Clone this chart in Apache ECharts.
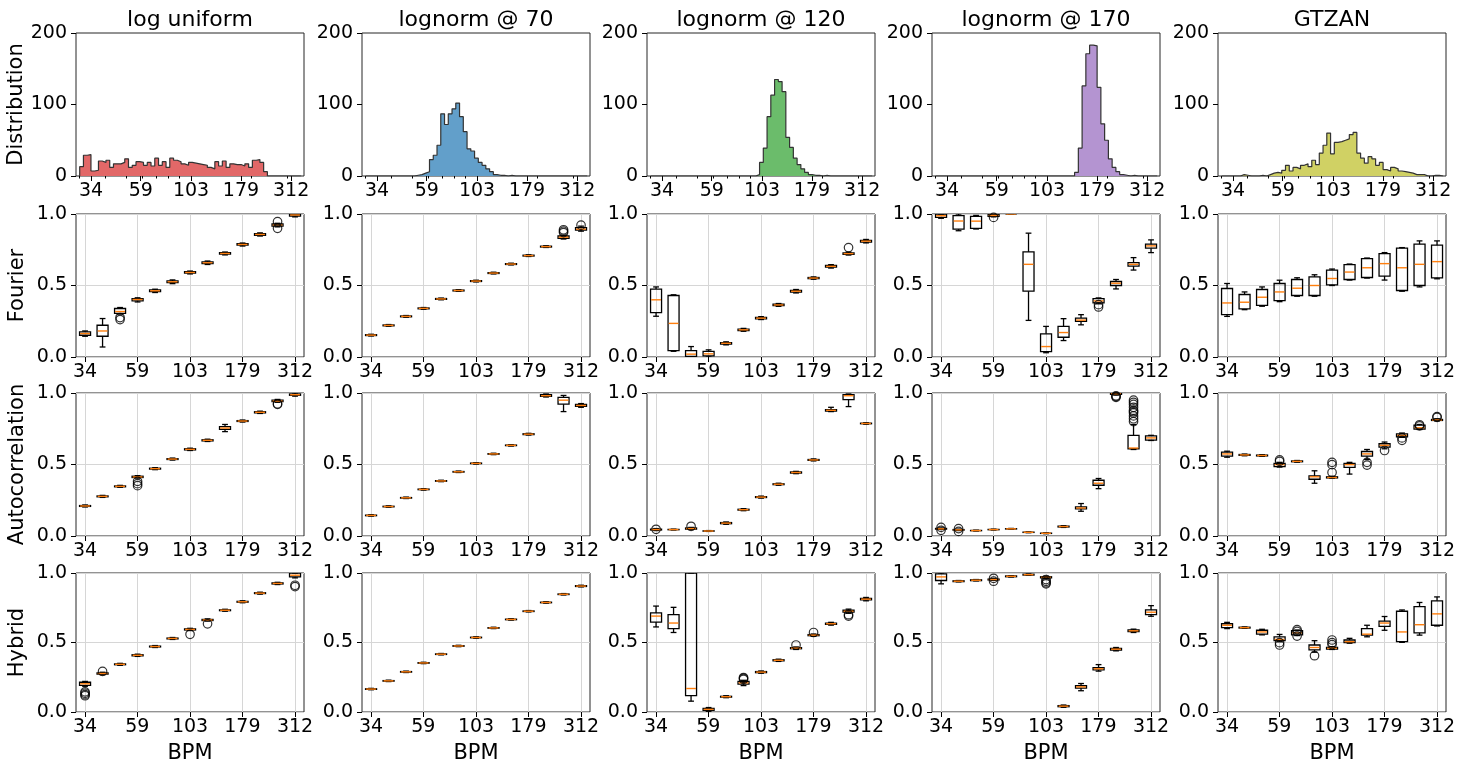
<!DOCTYPE html>
<html><head><meta charset="utf-8">
<script src="https://cdn.jsdelivr.net/npm/echarts@6/dist/echarts.min.js"></script>
<style>html,body{margin:0;padding:0;background:#fff}#c{width:1465px;height:765px}</style>
</head><body><div id="c"></div>
<script>
// ---------------- DATA ----------------
const columns = ['log uniform', 'lognorm @ 70', 'lognorm @ 120', 'lognorm @ 170', 'GTZAN'];
const rowNames = ['Distribution', 'Fourier', 'Autocorrelation', 'Hybrid'];
const tickLabels = [34, 59, 103, 179, 312];
const minorTicks = [30, 40, 50, 60, 70, 80, 90, 200, 300];
// tempo positions of the 13 boxes (BPM)
const bpmPositions = [34, 40.9, 49.2, 59.2, 71.2, 85.6, 103, 123.9, 149, 179.3, 215.6, 259.4, 312];
// histogram bins: log-spaced from 30 BPM, 50 bins between 30 and 240 BPM
const histBinStart = 30, histBinRef = 240, histBinsPerRef = 50;
const histLogUniform = [13,29,30,7,8,21,19,22,12,17,17,19,24,12,15,20,19,15,19,14,25,15,20,12,25,22,20,17,15,19,18,17,16,15,12,10,20,14,21,12,17,16,16,14,17,12,22,23,19,6,0,0,0,0,0,0,0,0,0];
const histLognorm70 = [0,0,0,0,0,0,0,0,0,0,0,0,0,1,2,4,6,23,29,43,87,72,87,94,102,83,62,38,35,25,19,15,10,6,2,1,1,0,1,0,0,0,0,0,0,0,0,0,0,0,0,0,0,0,0,0,0,0,0];
const histLognorm120 = [0,0,0,0,0,0,0,0,0,0,0,0,0,0,0,0,0,0,0,0,0,0,0,0,0,0,0,0,2,19,39,83,113,135,132,118,54,40,25,16,10,5,2,1,1,0,1,0,0,0,0,0,0,0,0,0,0,0,0];
const histLognorm170 = [0,0,0,0,0,0,0,0,0,0,0,0,0,0,0,0,0,0,0,0,0,0,0,0,0,0,0,0,0,0,0,0,0,0,0,0,0,5,39,126,171,183,182,124,73,50,24,12,6,2,1,0,1,0,0,0,0,0,0];
const histGTZAN = [0,0,0,0,0,2,1,0,0,0,1,0,2,4,5,4,8,15,7,12,10,15,17,13,22,16,32,43,60,31,47,48,50,52,58,61,32,25,18,27,24,15,19,9,7,12,10,7,6,5,4,2,2,2,0,0,1,1,0];

// boxes: [min, Q1, median, Q3, max]; outliers: [boxIndex, value]
const fourierLogUniform = [[0.145,0.152,0.164,0.176,0.182],[0.07,0.145,0.182,0.222,0.269],[0.30,0.305,0.318,0.339,0.346],[0.385,0.393,0.402,0.408,0.414],[0.451,0.457,0.463,0.469,0.474],[0.513,0.52,0.526,0.532,0.539],[0.581,0.586,0.591,0.596,0.601],[0.647,0.653,0.659,0.665,0.671],[0.714,0.719,0.724,0.729,0.734],[0.776,0.782,0.787,0.792,0.797],[0.846,0.851,0.857,0.862,0.868],[0.91,0.915,0.923,0.93,0.935],[0.98,0.986,0.993,0.998,1.0]];
const fourierLogUniformOut = [[2,0.276],[2,0.262],[11,0.946],[11,0.9]];
const autocorrLogUniform = [[0.203,0.207,0.21,0.213,0.217],[0.27,0.274,0.277,0.28,0.284],[0.34,0.344,0.347,0.35,0.354],[0.405,0.409,0.413,0.418,0.422],[0.464,0.468,0.471,0.474,0.478],[0.531,0.535,0.538,0.541,0.545],[0.598,0.602,0.606,0.61,0.614],[0.661,0.665,0.669,0.673,0.677],[0.73,0.745,0.755,0.765,0.78],[0.797,0.801,0.804,0.807,0.811],[0.857,0.861,0.865,0.869,0.873],[0.935,0.94,0.944,0.95,0.955],[0.978,0.984,0.988,0.993,1.0]];
const autocorrLogUniformOut = [[3,0.382],[3,0.366],[3,0.352],[11,0.925],[11,0.92]];
const hybridLogUniform = [[0.185,0.191,0.203,0.214,0.22],[0.268,0.272,0.277,0.282,0.286],[0.336,0.34,0.343,0.346,0.35],[0.4,0.404,0.408,0.412,0.416],[0.464,0.468,0.471,0.474,0.478],[0.522,0.526,0.529,0.532,0.536],[0.586,0.59,0.594,0.598,0.602],[0.654,0.658,0.662,0.666,0.67],[0.725,0.729,0.732,0.735,0.739],[0.786,0.79,0.793,0.796,0.8],[0.848,0.852,0.855,0.858,0.862],[0.917,0.921,0.925,0.929,0.933],[0.965,0.972,0.984,1.0,1.0]];
const hybridLogUniformOut = [[0,0.145],[0,0.135],[0,0.125],[0,0.117],[1,0.292],[6,0.559],[7,0.634],[12,0.902],[12,0.912]];

const fourierLognorm70 = [[0.147,0.15,0.153,0.156,0.159],[0.215,0.218,0.221,0.224,0.227],[0.278,0.281,0.284,0.287,0.29],[0.334,0.337,0.34,0.343,0.346],[0.4,0.403,0.406,0.409,0.412],[0.459,0.462,0.465,0.468,0.471],[0.525,0.528,0.531,0.534,0.537],[0.581,0.584,0.587,0.59,0.593],[0.644,0.647,0.65,0.653,0.656],[0.703,0.706,0.709,0.712,0.715],[0.766,0.769,0.772,0.775,0.778],[0.825,0.83,0.838,0.846,0.852],[0.88,0.888,0.894,0.905,0.915]];
const fourierLognorm70Out = [[11,0.87],[11,0.88],[11,0.89],[12,0.922]];
const autocorrLognorm70 = [[0.139,0.142,0.144,0.146,0.149],[0.201,0.204,0.206,0.208,0.211],[0.262,0.265,0.267,0.269,0.272],[0.321,0.324,0.326,0.328,0.331],[0.38,0.383,0.385,0.387,0.39],[0.444,0.447,0.449,0.451,0.454],[0.503,0.506,0.508,0.51,0.513],[0.569,0.572,0.574,0.576,0.579],[0.629,0.632,0.634,0.636,0.639],[0.706,0.709,0.712,0.715,0.718],[0.972,0.976,0.981,0.988,0.993],[0.87,0.922,0.95,0.969,0.983],[0.9,0.906,0.913,0.92,0.926]];
const autocorrLognorm70Out = [];
const hybridLognorm70 = [[0.16,0.163,0.165,0.167,0.17],[0.219,0.222,0.224,0.226,0.229],[0.284,0.287,0.289,0.291,0.294],[0.348,0.351,0.353,0.355,0.358],[0.411,0.414,0.416,0.418,0.421],[0.47,0.473,0.475,0.477,0.48],[0.531,0.534,0.536,0.538,0.541],[0.6,0.603,0.605,0.607,0.61],[0.661,0.664,0.666,0.668,0.671],[0.72,0.723,0.725,0.727,0.73],[0.783,0.786,0.788,0.79,0.793],[0.842,0.845,0.847,0.849,0.852],[0.9,0.903,0.906,0.909,0.912]];
const hybridLognorm70Out = [];

const fourierLognorm120 = [[0.285,0.31,0.40,0.475,0.49],[0.04,0.045,0.235,0.43,0.435],[0.0,0.005,0.02,0.045,0.073],[0.0,0.008,0.022,0.04,0.05],[0.085,0.09,0.096,0.101,0.106],[0.18,0.185,0.19,0.195,0.2],[0.262,0.267,0.272,0.277,0.282],[0.354,0.359,0.364,0.369,0.374],[0.448,0.454,0.46,0.466,0.472],[0.544,0.548,0.552,0.556,0.56],[0.622,0.628,0.634,0.64,0.646],[0.713,0.718,0.723,0.728,0.733],[0.798,0.804,0.81,0.816,0.822]];
const fourierLognorm120Out = [[11,0.765]];
const autocorrLognorm120 = [[0.038,0.042,0.045,0.048,0.052],[0.042,0.044,0.045,0.046,0.048],[0.045,0.048,0.052,0.056,0.06],[0.032,0.034,0.035,0.036,0.038],[0.082,0.086,0.09,0.094,0.098],[0.177,0.181,0.184,0.187,0.191],[0.265,0.269,0.272,0.275,0.279],[0.355,0.359,0.362,0.365,0.369],[0.436,0.44,0.444,0.448,0.452],[0.525,0.529,0.532,0.535,0.539],[0.87,0.874,0.879,0.884,0.9],[0.905,0.953,0.981,0.988,0.993],[0.782,0.785,0.787,0.789,0.792]];
const autocorrLognorm120Out = [[0,0.047],[2,0.068]];
const hybridLognorm120 = [[0.612,0.647,0.69,0.713,0.762],[0.572,0.60,0.64,0.70,0.753],[0.078,0.118,0.169,1.0,1.0],[0.005,0.012,0.019,0.026,0.032],[0.103,0.107,0.11,0.113,0.117],[0.19,0.2,0.21,0.22,0.228],[0.279,0.283,0.287,0.291,0.295],[0.364,0.368,0.372,0.376,0.38],[0.45,0.455,0.459,0.463,0.468],[0.545,0.549,0.553,0.557,0.561],[0.625,0.63,0.635,0.64,0.645],[0.71,0.718,0.725,0.732,0.74],[0.8,0.806,0.812,0.818,0.824]];
const hybridLognorm120Out = [[5,0.235],[5,0.242],[5,0.248],[8,0.482],[9,0.572],[11,0.69],[11,0.70]];

const fourierLognorm170 = [[0.97,0.976,0.988,1.0,1.0],[0.883,0.894,0.951,0.988,1.0],[0.895,0.90,0.95,0.983,0.99],[0.98,0.983,0.99,0.995,1.0],[1,1,1,1,1],[0.256,0.46,0.648,0.735,0.866],[0.03,0.038,0.073,0.162,0.214],[0.115,0.138,0.171,0.214,0.268],[0.225,0.249,0.258,0.272,0.296],[0.372,0.378,0.392,0.408,0.413],[0.476,0.5,0.516,0.528,0.542],[0.608,0.636,0.648,0.66,0.695],[0.73,0.761,0.777,0.789,0.819]];
const fourierLognorm170Out = [[3,0.976],[9,0.366],[9,0.35]];
const autocorrLognorm170 = [[0.045,0.048,0.05,0.053,0.056],[0.038,0.041,0.043,0.045,0.048],[0.035,0.037,0.038,0.039,0.041],[0.042,0.044,0.045,0.046,0.048],[0.047,0.049,0.05,0.051,0.053],[0.023,0.025,0.026,0.027,0.029],[0.016,0.018,0.019,0.02,0.022],[0.06,0.063,0.066,0.069,0.072],[0.173,0.19,0.196,0.203,0.227],[0.331,0.355,0.369,0.39,0.402],[0.985,0.99,0.995,1.0,1.0],[0.605,0.61,0.615,0.704,0.78],[0.668,0.671,0.686,0.70,0.704]];
const autocorrLognorm170Out = [[0,0.04],[0,0.06],[1,0.032],[1,0.052],[10,0.97],[10,0.975],[10,0.98],[11,0.8],[11,0.82],[11,0.84],[11,0.86],[11,0.87],[11,0.88],[11,0.9],[11,0.92],[11,0.935],[11,0.95]];
const hybridLognorm170 = [[0.922,0.946,0.972,0.993,1.0],[0.936,0.938,0.941,0.944,0.946],[0.943,0.945,0.948,0.951,0.953],[0.947,0.95,0.953,0.956,0.959],[0.971,0.973,0.976,0.979,0.981],[0.983,0.985,0.988,0.991,0.993],[0.96,0.965,0.969,0.973,0.976],[0.034,0.038,0.042,0.046,0.05],[0.153,0.172,0.181,0.19,0.205],[0.294,0.303,0.311,0.319,0.341],[0.44,0.446,0.452,0.458,0.464],[0.572,0.578,0.584,0.59,0.596],[0.689,0.701,0.718,0.734,0.765]];
const hybridLognorm170Out = [[3,0.941],[3,0.962],[6,0.953],[6,0.94],[6,0.93],[6,0.922]];

const fourierGTZAN = [[0.284,0.296,0.378,0.479,0.514],[0.331,0.336,0.383,0.437,0.455],[0.355,0.361,0.418,0.472,0.49],[0.387,0.394,0.455,0.514,0.537],[0.425,0.43,0.481,0.542,0.554],[0.425,0.43,0.5,0.561,0.575],[0.5,0.505,0.549,0.608,0.615],[0.538,0.542,0.594,0.646,0.65],[0.552,0.556,0.624,0.688,0.692],[0.538,0.566,0.653,0.723,0.73],[0.46,0.465,0.624,0.761,0.765],[0.49,0.5,0.648,0.789,0.812],[0.547,0.554,0.667,0.782,0.812]];
const fourierGTZANOut = [];
const autocorrGTZAN = [[0.551,0.558,0.574,0.586,0.593],[0.561,0.564,0.567,0.57,0.573],[0.557,0.56,0.563,0.566,0.569],[0.482,0.485,0.499,0.508,0.515],[0.516,0.519,0.522,0.525,0.528],[0.369,0.397,0.414,0.421,0.456],[0.404,0.406,0.409,0.414,0.418],[0.433,0.48,0.499,0.508,0.515],[0.535,0.558,0.574,0.591,0.605],[0.61,0.622,0.634,0.645,0.657],[0.69,0.693,0.704,0.714,0.72],[0.745,0.747,0.757,0.775,0.78],[0.805,0.808,0.811,0.815,0.82]];
const autocorrGTZANOut = [[3,0.532],[3,0.522],[6,0.444],[6,0.499],[6,0.515],[8,0.515],[8,0.496],[9,0.598],[10,0.686],[10,0.669],[11,0.77],[11,0.778],[12,0.835],[12,0.83]];
const hybridGTZAN = [[0.6,0.607,0.624,0.635,0.645],[0.602,0.604,0.607,0.61,0.612],[0.555,0.56,0.576,0.588,0.595],[0.505,0.513,0.522,0.541,0.558],[0.55,0.555,0.569,0.585,0.59],[0.43,0.447,0.464,0.482,0.513],[0.45,0.453,0.459,0.465,0.47],[0.495,0.499,0.506,0.518,0.53],[0.541,0.553,0.56,0.6,0.624],[0.588,0.616,0.64,0.654,0.687],[0.501,0.506,0.576,0.725,0.734],[0.553,0.569,0.628,0.758,0.788],[0.619,0.624,0.706,0.8,0.828]];
const hybridGTZANOut = [[3,0.499],[3,0.482],[4,0.593],[4,0.58],[4,0.546],[5,0.405],[6,0.499],[6,0.518],[6,0.485]];

// ---------------- LAYOUT / STYLE ----------------
const histograms = [histLogUniform, histLognorm70, histLognorm120, histLognorm170, histGTZAN];
const boxRows = [
  [[fourierLogUniform, fourierLogUniformOut],[fourierLognorm70, fourierLognorm70Out],[fourierLognorm120, fourierLognorm120Out],[fourierLognorm170, fourierLognorm170Out],[fourierGTZAN, fourierGTZANOut]],
  [[autocorrLogUniform, autocorrLogUniformOut],[autocorrLognorm70, autocorrLognorm70Out],[autocorrLognorm120, autocorrLognorm120Out],[autocorrLognorm170, autocorrLognorm170Out],[autocorrGTZAN, autocorrGTZANOut]],
  [[hybridLogUniform, hybridLogUniformOut],[hybridLognorm70, hybridLognorm70Out],[hybridLognorm120, hybridLognorm120Out],[hybridLognorm170, hybridLognorm170Out],[hybridGTZAN, hybridGTZANOut]]
];
const FONT = 'DejaVu Sans';
const colLeft = [76, 362, 647, 932, 1218];
const rowTop = [33, 214, 393, 573];
const W = 228, H = 143;
const histFill = ['#e26868', '#629fca', '#6bbc6b', '#b494d1', '#d0d164'];
const L = Math.log;
const histXlim = [28.8, 360];
const boxXlim = [30.9, 343];
const tickVals = tickLabels.map(L);
const fmtTick = v => String(Math.round(Math.exp(v)));
const gridColor = '#d6d6d6';
const TICK_FS = 19;

const grid = [], xAxis = [], yAxis = [], series = [], graphic = [];
for (let r = 0; r < 4; r++) {
  for (let c = 0; c < 5; c++) {
    const p = r * 5 + c;
    grid.push({left: colLeft[c], top: rowTop[r], width: W, height: H, show: true,
      borderColor: '#262626', borderWidth: 1, backgroundColor: 'rgba(0,0,0,0)'});
    const xl = r === 0 ? histXlim : boxXlim;
    xAxis.push({gridIndex: p, type: 'value', min: L(xl[0]), max: L(xl[1]),
      axisLine: {show: false},
      axisTick: {show: true, customValues: tickVals, length: 5, lineStyle: {color: '#000', width: 1}},
      axisLabel: {customValues: tickVals, formatter: fmtTick, fontSize: TICK_FS, color: '#000', fontFamily: FONT, margin: 6},
      splitLine: {show: r > 0, lineStyle: {color: gridColor, width: 1}},
      name: r === 3 ? 'BPM' : '', nameLocation: 'middle', nameGap: 31,
      nameTextStyle: {fontSize: 21, fontFamily: FONT, color: '#000'}});
    yAxis.push({gridIndex: p, type: 'value', min: 0, max: r === 0 ? 200 : 1, interval: r === 0 ? 100 : 0.5,
      axisLine: {show: false},
      axisTick: {show: true, length: 5, lineStyle: {color: '#000', width: 1}},
      axisLabel: {fontSize: TICK_FS, color: '#000', fontFamily: FONT, margin: 9,
        formatter: r === 0 ? (v => String(v)) : (v => v.toFixed(1))},
      splitLine: {show: r > 0, lineStyle: {color: gridColor, width: 1}},
      name: c === 0 ? rowNames[r] : '', nameLocation: 'middle', nameGap: 48, nameRotate: 90,
      nameTextStyle: {fontSize: 21, fontFamily: FONT, color: '#000'}});
  }
}
// minor ticks on histogram axes
for (let c = 0; c < 5; c++) {
  xAxis.push({gridIndex: c, type: 'value', position: 'bottom', offset: 0,
    min: L(histXlim[0]), max: L(histXlim[1]),
    axisLine: {show: false}, axisLabel: {show: false}, splitLine: {show: false},
    axisTick: {show: true, customValues: minorTicks.map(L), length: 2.5, lineStyle: {color: '#000', width: 1}}});
}
// histograms (step outline)
const binW = L(histBinRef / histBinStart) / histBinsPerRef;
histograms.forEach((counts, c) => {
  const pts = [[L(histBinStart), 0]];
  counts.forEach((n, k) => pts.push([L(histBinStart) + (k + 1) * binW, n]));
  pts.push([L(histBinStart) + counts.length * binW, 0]);
  series.push({type: 'line', xAxisIndex: c, yAxisIndex: c, data: pts, step: 'start',
    symbol: 'none', silent: true, animation: false,
    lineStyle: {color: '#333', width: 1.2},
    areaStyle: {color: histFill[c], opacity: 1}});
  graphic.push({type: 'text', x: colLeft[c] + W / 2, y: 20,
    style: {text: columns[c], fontSize: 22, fontFamily: FONT, fill: '#000', align: 'center', verticalAlign: 'middle'}});
});
// boxplots drawn through the axes (custom series: box, whiskers with half-width caps, orange median)
const renderBox = (params, api) => {
  const xv = api.value(0);
  const x = api.coord([xv, 0])[0];
  const y = i => api.coord([xv, api.value(i)])[1];
  const yMin = y(1), yQ1 = y(2), yMed = y(3), yQ3 = y(4), yMax = y(5);
  const hw = 5.5, cw = 2.9;
  const st = {stroke: '#000', lineWidth: 1.3, fill: null};
  return {type: 'group', children: [
    {type: 'line', shape: {x1: x, y1: yQ1, x2: x, y2: yMin}, style: st},
    {type: 'line', shape: {x1: x, y1: yQ3, x2: x, y2: yMax}, style: st},
    {type: 'line', shape: {x1: x - cw, y1: yMin, x2: x + cw, y2: yMin}, style: st},
    {type: 'line', shape: {x1: x - cw, y1: yMax, x2: x + cw, y2: yMax}, style: st},
    {type: 'rect', shape: {x: x - hw, y: yQ3, width: 2 * hw, height: yQ1 - yQ3}, style: {stroke: '#000', fill: null, lineWidth: 1.3}},
    {type: 'line', shape: {x1: x - hw + 0.6, y1: yMed, x2: x + hw - 0.6, y2: yMed}, style: {stroke: '#ff7f0e', lineWidth: 1.4}}
  ]};
};
boxRows.forEach((row, ri) => {
  row.forEach(([boxes, outs], c) => {
    const p = (ri + 1) * 5 + c;
    series.push({type: 'custom', xAxisIndex: p, yAxisIndex: p, silent: true, animation: false, clip: true,
      renderItem: renderBox, encode: {x: 0, y: [1, 2, 3, 4, 5]},
      data: boxes.map((b, i) => [L(bpmPositions[i])].concat(b)), z: 3});
    series.push({type: 'scatter', xAxisIndex: p, yAxisIndex: p, silent: true, animation: false, z: 4,
      symbol: 'circle', symbolSize: 8.5,
      data: outs.map(([i, v]) => [L(bpmPositions[i]), v]),
      itemStyle: {color: 'rgba(0,0,0,0)', borderColor: '#000', borderWidth: 1.2}});
  });
});

const chart = echarts.init(document.getElementById('c'));
chart.setOption({animation: false, backgroundColor: '#fff', grid, xAxis, yAxis, series, graphic});
</script></body></html>
